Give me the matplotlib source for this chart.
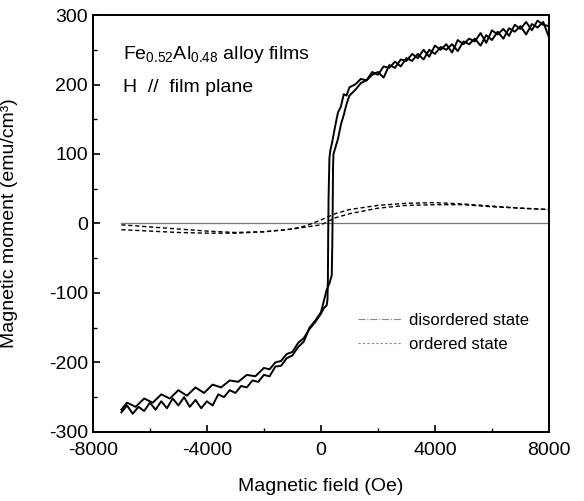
import matplotlib
matplotlib.use('Agg')
import matplotlib.pyplot as plt
from matplotlib.lines import Line2D
from matplotlib.ticker import MultipleLocator

plt.rcParams['font.family'] = ['Liberation Sans', 'DejaVu Sans']
plt.rcParams['mathtext.fontset'] = 'custom'
plt.rcParams['mathtext.rm'] = 'Liberation Sans'
plt.rcParams['mathtext.it'] = 'Liberation Sans'
plt.rcParams['axes.unicode_minus'] = False

# disordered state loop, descending branch (+8000 -> -7000)
desc_H = [8000, 7800, 7600, 7400, 7200, 7000, 6800, 6600, 6400, 6200, 6000, 5800,
          5600, 5400, 5200, 5000, 4800, 4600, 4400, 4200, 4000, 3800, 3600, 3400,
          3200, 3000, 2800, 2600, 2400, 2200, 2000, 1800, 1600, 1400, 1200, 1000,
          900, 800, 700, 600, 500, 400, 330, 300, 270, 255, 245, 230, 200,
          100, 0, -200, -400, -600, -800, -1000, -1200, -1400, -1600, -1800, -2000,
          -2300, -2600, -2900, -3200, -3500, -3800, -4100, -4400, -4700, -5000,
          -5300, -5600, -5900, -6200, -6500, -6800, -7000]
desc_M = [268, 290, 282, 287, 272, 284, 276, 281, 266, 276, 264, 271,
          256, 266, 258, 262, 248, 258, 250, 254, 244, 250, 236, 244,
          234, 238, 226, 233, 224, 226, 214, 218, 206, 208, 200, 196,
          184, 186, 168, 160, 140, 118, 105, 95, 40, -20, -80, -110, -118,
          -122, -130, -142, -152, -165, -172, -185, -188, -198, -200, -210, -208,
          -220, -218, -228, -226, -236, -232, -244, -236, -248, -240,
          -252, -246, -258, -252, -264, -258, -268]

# disordered state loop, ascending branch (-7000 -> +8000)
asc_H = [-7000, -6800, -6600, -6400, -6200, -6000, -5800, -5600, -5400, -5200,
         -5000, -4800, -4600, -4400, -4200, -4000, -3800, -3600, -3400, -3200,
         -3000, -2800, -2600, -2400, -2200, -2000, -1800, -1600, -1400, -1200,
         -1000, -800, -600, -400, -200, 0, 100, 200, 300, 380, 400, 415, 425, 440,
         500, 600, 700, 800, 900, 1000, 1200, 1400, 1600, 1800, 2000, 2200, 2400,
         2600, 2800, 3000, 3200, 3400, 3600, 3800, 4000, 4200, 4400, 4600, 4800,
         5000, 5200, 5400, 5600, 5800, 6000, 6200, 6400, 6600, 6800, 7000, 7200,
         7400, 7600, 7800, 8000]
asc_M = [-272, -262, -274, -264, -270, -258, -268, -256, -266, -252,
         -262, -250, -264, -254, -266, -256, -262, -246, -250, -240,
         -244, -234, -236, -226, -228, -218, -220, -206, -205, -194,
         -190, -178, -170, -150, -140, -128, -112, -96, -86, -75, -30, 30, 80, 100,
         108, 122, 142, 156, 172, 184, 192, 202, 206, 214, 218, 210, 228,
         224, 236, 234, 244, 238, 250, 240, 256, 250, 258, 246, 264,
         258, 266, 262, 274, 260, 278, 272, 280, 270, 286, 280, 290,
         278, 292, 286, 284]

# ordered state, two branches
ord_H = [-7000, -6000, -5000, -4000, -3000, -2000, -1000, -500, 0, 500, 1000,
         2000, 3000, 4000, 5000, 6000, 7000, 8000]
ord_up = [-2, -5, -8, -11, -13, -12, -8, -3, 5, 14, 20, 26, 29, 30, 28, 25, 22, 20]
ord_lo = [-9, -11, -13, -14, -14, -12, -8, -5, -2, 8, 14, 22, 26, 27, 27, 24, 22, 20]

# baseline
base_H = [-7000, 8000]
base_M = [0, 0]

fig = plt.figure(figsize=(5.84, 5.01), dpi=100)
ax = fig.add_axes([0.159, 0.138, 0.781, 0.832])

ax.plot(base_H, base_M, color='#777777', lw=0.9)
ax.plot(ord_H, ord_up, color='black', lw=1.0, dashes=(3, 2))
ax.plot(ord_H, ord_lo, color='black', lw=1.0, dashes=(3, 2))
ax.plot(desc_H, desc_M, color='black', lw=1.4)
ax.plot(asc_H, asc_M, color='black', lw=1.4)

ax.set_xlim(-8000, 8000)
ax.set_ylim(-300, 300)
ax.xaxis.set_major_locator(MultipleLocator(4000))
ax.xaxis.set_minor_locator(MultipleLocator(2000))
ax.yaxis.set_major_locator(MultipleLocator(100))
ax.yaxis.set_minor_locator(MultipleLocator(50))
ax.tick_params(which='both', direction='in', top=False, right=False, labelsize=14)
ax.tick_params(axis='x', which='major', pad=7)
ax.tick_params(which='major', length=5, width=1.2)
ax.tick_params(which='minor', length=3, width=1.0)
for s in ax.spines.values():
    s.set_linewidth(1.4)

ax.set_xlabel('Magnetic field (Oe)', fontsize=14, labelpad=14)
ax.set_ylabel('Magnetic moment (emu/cm³)', fontsize=14)
ax.yaxis.set_label_coords(-0.165, 0.5)

ax.text(0.065, 0.905, r'Fe$_{\mathregular{0.52}}$Al$_{\mathregular{0.48}}$ alloy films',
        transform=ax.transAxes, fontsize=14, va='center', ha='left')
ax.text(0.065, 0.825, 'H  //  film plane', transform=ax.transAxes,
        fontsize=14, va='center', ha='left')

handles = [Line2D([], [], color='#888888', lw=0.8, linestyle='-.'),
           Line2D([], [], color='#888888', lw=0.8, dashes=(2, 2))]
ax.legend(handles, ['disordered state', 'ordered state'], frameon=False,
          loc='lower right', bbox_to_anchor=(0.99, 0.155), fontsize=12,
          handlelength=2.6, handletextpad=0.5, labelspacing=0.55)

fig.savefig('out.png', dpi=100)
